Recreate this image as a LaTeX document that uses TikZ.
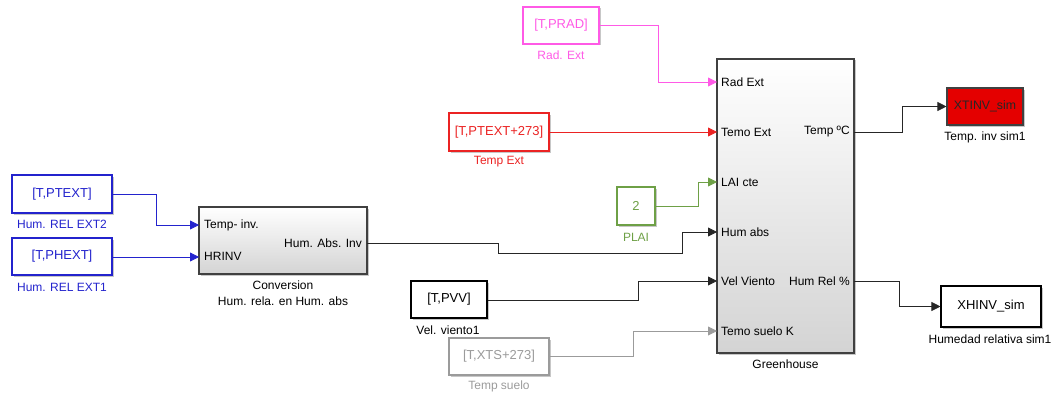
\documentclass[tikz,border=0pt]{standalone}
\usepackage{fontspec}
\setmainfont{Liberation Sans}
\usetikzlibrary{arrows.meta,shadows}
\definecolor{sblue}{RGB}{35,35,205}
\definecolor{smag}{RGB}{255,90,230}
\definecolor{sred}{RGB}{235,35,35}
\definecolor{sgreen}{RGB}{110,160,70}
\definecolor{sgray}{RGB}{155,155,155}
\definecolor{xred}{RGB}{228,0,0}
\begin{document}
\begin{tikzpicture}[x=1pt,y=-1pt,
  blk/.style={draw=#1, text=#1, line width=1.1pt, fill=white, inner sep=0pt,
    font=\fontsize{13}{15}\selectfont,
    drop shadow={shadow xshift=1.5pt,shadow yshift=-1.5pt,fill=black!22,opacity=1}},
  blk/.default=black,
  sub/.style={draw=black!75, line width=1.1pt, inner sep=0pt, top color=white, bottom color=black!17,
    drop shadow={shadow xshift=1.5pt,shadow yshift=-1.5pt,fill=black!22,opacity=1}},
  lbl/.style={font=\fontsize{12}{14}\selectfont, inner sep=0pt},
  port/.style={font=\fontsize{12}{14}\selectfont, inner sep=0pt},
  wire/.style={line width=0.8pt, -{Triangle[length=9pt,width=9pt]}}]
\useasboundingbox (0,0) rectangle (1054,396);

% --- source blocks ---
\node[blk=sblue, minimum width=100pt, minimum height=38pt] (ptext) at (62,194) {[T,PTEXT]};
\node[lbl, text=sblue] (ptextl) at (62,224) {Hum. REL EXT2};
\node[blk=sblue, minimum width=100pt, minimum height=37pt] (phext) at (62,256.5) {[T,PHEXT]};
\node[lbl, text=sblue] (phextl) at (62,287) {Hum. REL EXT1};

\node[blk=smag, minimum width=76pt, minimum height=37pt] (prad) at (561,25.5) {[T,PRAD]};
\node[lbl, text=smag] (pradl) at (561,55) {Rad. Ext};
\node[blk=sred, minimum width=100pt, minimum height=38pt] (ptext273) at (499,132) {[T,PTEXT+273]};
\node[lbl, text=sred] (ptext273l) at (499,162) {Temp Ext};
\node[blk=sgreen, minimum width=38pt, minimum height=38pt] (plai) at (636,206) {2};
\node[lbl, text=sgreen] (plail) at (636,237) {PLAI};
\node[blk=black, minimum width=76pt, minimum height=37pt] (pvv) at (449,299.5) {[T,PVV]};
\node[lbl] (pvvl) at (448,330) {Vel. viento1};
\node[blk=sgray, minimum width=100pt, minimum height=37pt] (xts) at (499,356.5) {[T,XTS+273]};
\node[lbl, text=sgray] (xtsl) at (499,386) {Temp suelo};

% --- conversion subsystem ---
\node[sub, minimum width=168pt, minimum height=67pt] (conv) at (283,240.5) {};
\node[port, anchor=west] (cin1l) at (204,225) {Temp- inv.};
\node[port, anchor=west] (cin2l) at (204,256) {HRINV};
\node[port, anchor=east] (coutl) at (362,243) {Hum. Abs. Inv};
\node[lbl] (convl1) at (283,285) {Conversion};
\node[lbl] (convl2) at (283,301) {Hum. rela. en Hum. abs};
\coordinate (cin1) at (199,225);
\coordinate (cin2) at (199,257);
\coordinate (cout) at (367,243);

% --- greenhouse subsystem ---
\node[sub, minimum width=137pt, minimum height=294pt] (gh) at (785.5,206) {};
\node[lbl] (ghl) at (785.5,364) {Greenhouse};
\foreach \y/\t/\n in {82/Rad Ext/1,132/Temo Ext/2,182/LAI cte/3,232/Hum abs/4,281/Vel Viento/5,331/Temo suelo K/6}{
  \node[port, anchor=west] (ghin\n l) at (721,\y) {\t};
  \coordinate (ghin\n) at (717,\y);
}
\node[port, anchor=east] (ghout1l) at (850,132) {Temp ºC};
\node[port, anchor=east] (ghout2l) at (850,281) {Hum Rel \%};
\coordinate (ghout1) at (854,132);
\coordinate (ghout2) at (854,281);

% --- sinks ---
\node[blk=black!75, fill=xred, text=black!85, font=\fontsize{12.3}{14}\selectfont, minimum width=76pt, minimum height=37pt] (xtinv) at (985,106.5) {XTINV\_sim};
\node[lbl] (xtinvl) at (985,137) {Temp. inv sim1};
\node[blk=black, minimum width=100pt, minimum height=41pt] (xhinv) at (991,306.5) {XHINV\_sim};
\node[lbl] (xhinvl) at (990,339) {Humedad relativa sim1};

% --- wires ---
\draw[wire, sblue] (ptext.east) -- (156,194) |- (cin1);
\draw[wire, sblue] (phext.east |- cin2) -- (cin2);
\draw[wire, black!85] (cout) -- (498,243) -- (498,253) -- (682,253) |- (ghin4);
\draw[wire, smag] (prad.east) -- (658,25.5) |- (ghin1);
\draw[wire, sred] (ptext273.east) -- (ghin2);
\draw[wire, sgreen] (plai.east) -- (698,206) |- (ghin3);
\draw[wire, black!85] (pvv.east |- 0,300) -- (638,300) |- (ghin5);
\draw[wire, sgray] (xts.east |- 0,356) -- (633,356) |- (ghin6);
\draw[wire, black!85] (ghout1) -- (902,132) |- (xtinv.west);
\draw[wire, black!85] (ghout2) -- (899,281) |- (xhinv.west);
\end{tikzpicture}
\end{document}
